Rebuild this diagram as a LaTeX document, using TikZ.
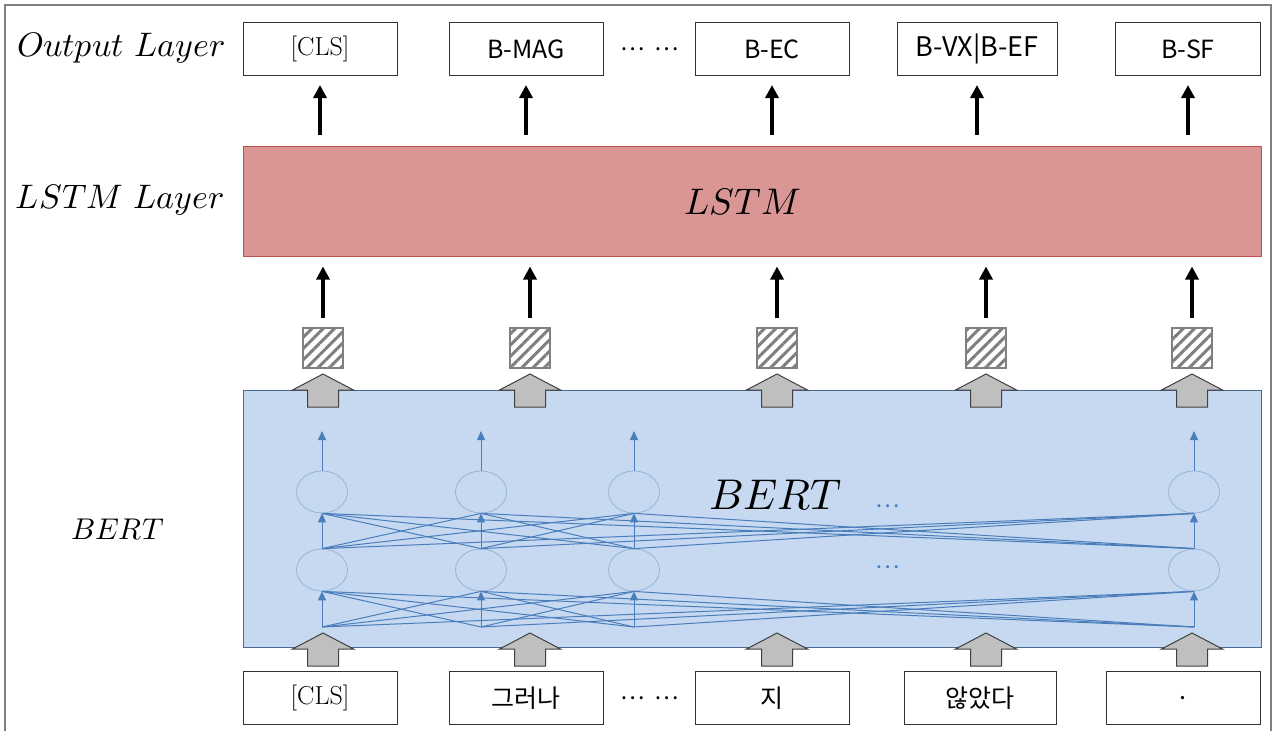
\documentclass[tikz,border=0pt]{standalone}
\usepackage{fontspec}
\usepackage{unicode-math}
\setmathfont{Latin Modern Math}
\newfontfamily\kor{Noto Sans CJK KR}
\usetikzlibrary{positioning,arrows.meta,patterns.meta,shapes.geometric}
\definecolor{lstmred}{HTML}{D99694}
\definecolor{lstmedge}{HTML}{C0504D}
\definecolor{bertblue}{HTML}{C6D9F1}
\definecolor{bertedge}{HTML}{4A6A92}
\definecolor{cellblue}{HTML}{95B3D7}
\definecolor{wireblue}{HTML}{4A7EBB}
\definecolor{blockgray}{HTML}{BFBFBF}
\definecolor{framegray}{HTML}{7F7F7F}

\begin{document}
\begin{tikzpicture}[x=1pt,y=-1pt,
  tok/.style={draw=black!80,line width=1pt,minimum width=154,minimum height=53,inner sep=0pt,font=\kor\fontsize{25}{29}\selectfont},
  clstok/.style={tok,font=\fontsize{26}{30}\selectfont},
  lbl/.style={font=\fontsize{34}{38}\selectfont},
  dotsfont/.style={inner sep=0pt,font=\kor\fontsize{23}{25}\selectfont},
  hatchbox/.style={draw=gray,line width=1.5pt,minimum size=40,inner sep=0pt,pattern={Lines[angle=45,distance=8pt,line width=3pt]},pattern color=framegray},
  cell/.style={ellipse,draw=cellblue,line width=0.8pt,minimum width=51,minimum height=42,inner sep=0pt},
  wire/.style={draw=wireblue,line width=1pt},
  wireup/.style={wireblue,line width=1pt,-{Triangle[length=9pt,width=8pt]}},
  bigup/.style={line width=3.5pt,-{Triangle[length=13pt,width=13pt]}},
  blockup/.pic={\draw[fill=blockgray,draw=black!75,line width=1pt] (-15.5,0) -- (-15.5,-17) -- (-30.5,-17) -- (0,-33) -- (30.5,-17) -- (15.5,-17) -- (15.5,0) -- cycle;}
]
\useasboundingbox (0,0) rectangle (1274,731);
\draw[framegray,line width=1.5pt] (5,731) -- (5,5) -- (1271,5) -- (1271,731);

\node[lbl] (outlbl) at (121,48) {$Output\ Layer$};
\node[lbl] (lstmlbl) at (120,200) {$LSTM\ Layer$};
\node[lbl,font=\fontsize{30}{34}\selectfont] (bertlbl) at (118,530) {$BERT$};

\node[clstok] (o1) at (320,49) {[CLS]};
\node[tok] (o2) at (526,49) {B-MAG};
\node[dotsfont] (odots) at (650,49) {…\hspace{10pt}…};
\node[tok] (o3) at (772,49) {B-EC};
\node[tok,minimum width=160,font=\kor\fontsize{27}{29}\selectfont] (o4) at (977,49) {B-VX|B-EF};
\node[tok,minimum width=145] (o5) at (1188,49) {B-SF};

\node[draw=lstmedge,fill=lstmred,line width=1pt,minimum width=1018,minimum height=110,inner sep=0pt] (lstm) at (752,201) {};
\node[font=\fontsize{37}{42}\selectfont] (lstmtxt) at (743,202) {$LSTM$};

\node[draw=bertedge,fill=bertblue,line width=1pt,minimum width=1018,minimum height=257,inner sep=0pt] (bert) at (752,518.5) {};
\node[font=\fontsize{43}{48}\selectfont] (berttxt) at (776,495) {$BERT$};
\node[dotsfont,text=wireblue] (bdots1) at (888,506) {…};
\node[dotsfont,text=wireblue] (bdots2) at (888,567) {…};

\node[hatchbox] (h1) at (323,348) {};
\node[hatchbox] (h2) at (530,348) {};
\node[hatchbox] (h3) at (777,348) {};
\node[hatchbox] (h4) at (986,348) {};
\node[hatchbox] (h5) at (1192,348) {};

\foreach \x in {323,530,777,986,1192} {
  \pic at (\x,407) {blockup};
  \pic at (\x,666) {blockup};
}

\foreach \n in {1,...,5} {
  \draw[bigup,shorten <=9pt,shorten >=10pt] (h\n.north) -- (h\n.north |- lstm.south);
  \draw[bigup,shorten <=11pt,shorten >=9pt] (o\n.south |- lstm.north) -- (o\n.south);
}

\node[cell] (u1) at (322,492) {};
\node[cell] (u2) at (481,492) {};
\node[cell] (u3) at (634,492) {};
\node[cell] (u4) at (1194,492) {};
\node[cell] (l1) at (322,570) {};
\node[cell] (l2) at (481,570) {};
\node[cell] (l3) at (634,570) {};
\node[cell] (l4) at (1194,570) {};
\foreach \n/\x in {1/322,2/481,3/634,4/1194} {
  \coordinate (b\n) at (\x,627);
  \coordinate (t\n) at (\x,431);
}
\foreach \i in {1,...,4}
  \foreach \j in {1,...,4} {
    \ifnum\i=\j\else
      \draw[wire] (b\i) -- (l\j.south);
      \draw[wire] (l\i.north) -- (u\j.south);
    \fi
  }
\foreach \n in {1,...,4} {
  \draw[wireup] (b\n) -- (l\n.south);
  \draw[wireup] (l\n.north) -- (u\n.south);
  \draw[wireup] (u\n.north) -- (t\n);
}

\node[clstok] (i1) at (320,698) {[CLS]};
\node[tok] (i2) at (526,698) {그러나};
\node[dotsfont] (idots) at (650,698) {…\hspace{10pt}…};
\node[tok] (i3) at (772,698) {지};
\node[tok,minimum width=152] (i4) at (980,698) {않았다};
\node[tok] (i5) at (1183,698) {.};
\end{tikzpicture}
\end{document}
